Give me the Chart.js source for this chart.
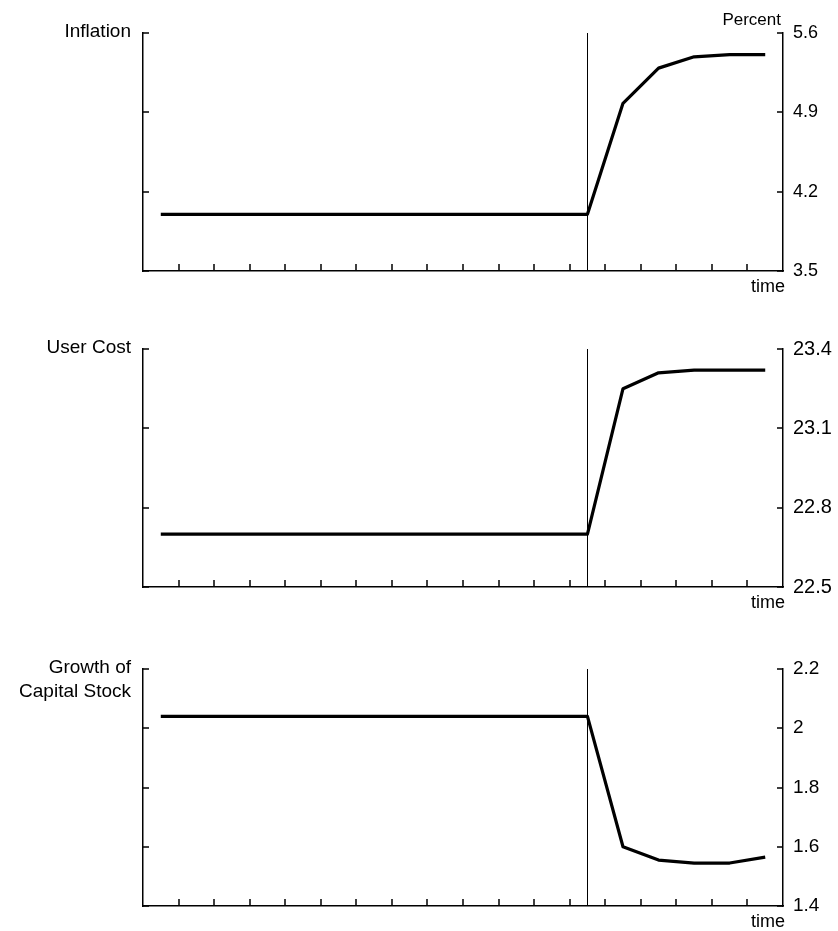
<!DOCTYPE html>
<html><head><meta charset="utf-8">
<script src="https://cdn.jsdelivr.net/npm/chart.js@4.4.1/dist/chart.umd.min.js"></script>
<style>
html,body{margin:0;padding:0;background:#fff;width:838px;height:931px;overflow:hidden}
canvas{position:absolute;left:0}
</style></head><body>
<canvas id="c1" width="838" height="300" style="top:0px"></canvas>
<canvas id="c2" width="838" height="310" style="top:300px"></canvas>
<canvas id="c3" width="838" height="321" style="top:610px"></canvas>
<script>
// ---- data ----
const xTicks = [0,1,2,3,4,5,6,7,8,9,10,11,12,13,14,15,16,17,18];
const timeX = [0.5,1.5,2.5,3.5,4.5,5.5,6.5,7.5,8.5,9.5,10.5,11.5,12.5,13.5,14.5,15.5,16.5,17.5];
const shockTime = 12.5;
const inflation = [4.0,4.0,4.0,4.0,4.0,4.0,4.0,4.0,4.0,4.0,4.0,4.0,4.0,4.98,5.29,5.39,5.41,5.41];
const userCost = [22.70,22.70,22.70,22.70,22.70,22.70,22.70,22.70,22.70,22.70,22.70,22.70,22.70,23.25,23.31,23.32,23.32,23.32];
const capitalGrowth = [2.04,2.04,2.04,2.04,2.04,2.04,2.04,2.04,2.04,2.04,2.04,2.04,2.04,1.60,1.555,1.545,1.545,1.565];
const inflationTicks = [3.5,4.2,4.9,5.6];
const inflationTickLabels = ['3.5','4.2','4.9','5.6'];
const userCostTicks = [22.5,22.8,23.1,23.4];
const userCostTickLabels = ['22.5','22.8','23.1','23.4'];
const growthTicks = [1.4,1.6,1.8,2.0,2.2];
const growthTickLabels = ['1.4','1.6','1.8','2','2.2'];
const titles = [['Inflation'],['User Cost'],['Growth of','Capital Stock']];
const unitLabel = 'Percent';
const xLabel = 'time';

// ---- layout/styles ----
const FONT = "'Liberation Sans', Arial, Helvetica, sans-serif";
Chart.defaults.font.family = FONT;
Chart.defaults.color = '#000';
const W = 838, LEFT = 143, RIGHT = 783;
const panels = [
  {id:'c1', values:inflation, ticks:inflationTicks, labels:inflationTickLabels, title:titles[0], unit:true, top:33, bottom:271, height:300, tickFont:18},
  {id:'c2', values:userCost, ticks:userCostTicks, labels:userCostTickLabels, title:titles[1], unit:false, top:49, bottom:287, height:310, tickFont:20},
  {id:'c3', values:capitalGrowth, ticks:growthTicks, labels:growthTickLabels, title:titles[2], unit:false, top:59, bottom:296, height:321, tickFont:19}
];

function makePlugin(p){
  return {
    id:'decor',
    beforeDatasetsDraw(chart){
      const ctx = chart.ctx, a = chart.chartArea, xs = chart.scales.x;
      const x = xs.getPixelForValue(shockTime);
      ctx.save();
      ctx.strokeStyle = '#000'; ctx.lineWidth = 1;
      ctx.beginPath(); ctx.moveTo(Math.round(x)+0.5, a.top); ctx.lineTo(Math.round(x)+0.5, a.bottom); ctx.stroke();
      ctx.restore();
    },
    afterDraw(chart){
      const ctx = chart.ctx, a = chart.chartArea, xs = chart.scales.x, ys = chart.scales.y;
      ctx.save();
      ctx.strokeStyle = '#000'; ctx.lineWidth = 1.5;
      ctx.beginPath();
      xTicks.forEach(v=>{
        const px = Math.round(xs.getPixelForValue(v));
        if (px <= a.left+1 || px >= a.right-1) return;
        ctx.moveTo(px, a.bottom); ctx.lineTo(px, a.bottom-7);
      });
      p.ticks.forEach(v=>{
        const py = Math.round(ys.getPixelForValue(v));
        ctx.moveTo(a.right, py); ctx.lineTo(a.right-6, py);
        ctx.moveTo(a.left, py); ctx.lineTo(a.left+6, py);
      });
      ctx.stroke();
      ctx.fillStyle = '#000';
      ctx.textBaseline = 'middle';
      ctx.textAlign = 'right';
      ctx.font = '19px ' + FONT;
      p.title.forEach((t,i)=>ctx.fillText(t, 131, a.top - 1 + i*24));
      ctx.font = '17px ' + FONT;
      if (p.unit) ctx.fillText(unitLabel, 781, a.top - 13);
      ctx.font = '18px ' + FONT;
      ctx.fillText(xLabel, 785, a.bottom + 16);
      ctx.restore();
    }
  };
}

panels.forEach(p=>{
  const yMin = p.ticks[0], yMax = p.ticks[p.ticks.length-1];
  const setTicks = arr => s => { s.ticks = arr.map(v=>({value:v})); };
  new Chart(document.getElementById(p.id), {
    type:'line',
    data:{datasets:[{
      data: timeX.map((x,i)=>({x:x, y:p.values[i]})),
      borderColor:'#000', borderWidth:3.2, pointRadius:0, tension:0, fill:false,
      xAxisID:'x', yAxisID:'y', borderJoinStyle:'round'
    }]},
    options:{
      responsive:false, animation:false, devicePixelRatio:1,
      layout:{padding:{top:p.top, left:0, right:0, bottom:0}},
      plugins:{legend:{display:false}, tooltip:{enabled:false}},
      scales:{
        x:{type:'linear', position:'bottom', min:0, max:18,
           afterBuildTicks:setTicks(xTicks),
           ticks:{display:false},
           grid:{drawOnChartArea:false, drawTicks:false},
           border:{display:true, color:'#000', width:1.5},
           afterFit:s=>{ s.height = p.height - p.bottom; }},
        y:{type:'linear', position:'right', min:yMin, max:yMax,
           afterBuildTicks:setTicks(p.ticks),
           ticks:{color:'#000', padding:10, font:{size:p.tickFont}, callback:(v,i)=>p.labels[i]},
           grid:{drawOnChartArea:false, drawTicks:false},
           border:{display:true, color:'#000', width:1.5},
           afterFit:s=>{ s.width = W - RIGHT; }},
        yL:{type:'linear', position:'left', min:yMin, max:yMax,
           afterBuildTicks:setTicks(p.ticks),
           ticks:{display:false},
           grid:{drawOnChartArea:false, drawTicks:false},
           border:{display:true, color:'#000', width:1.5},
           afterFit:s=>{ s.width = LEFT; }}
      }
    },
    plugins:[makePlugin(p)]
  });
});
</script>
</body></html>
